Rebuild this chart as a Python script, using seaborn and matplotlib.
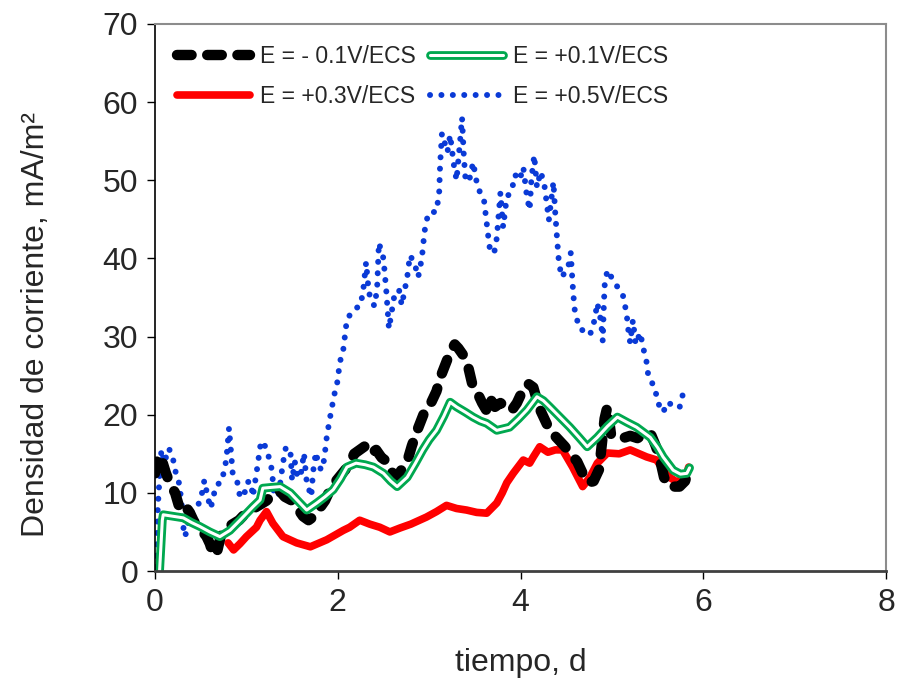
import numpy as np
import pandas as pd
import matplotlib
matplotlib.use('Agg')
import matplotlib.pyplot as plt
import matplotlib.patheffects as pe
import seaborn as sns

# E = -0.1 V/ECS
t_m01 = [0.00, 0.02, 0.05, 0.08, 0.12, 0.17, 0.22, 0.27, 0.32, 0.38, 0.42, 0.47, 0.52, 0.56,
         0.60, 0.64, 0.68, 0.72, 0.78, 0.85, 0.92, 1.00, 1.08, 1.15, 1.22, 1.30, 1.36, 1.42,
         1.50, 1.56, 1.62, 1.68, 1.74, 1.80, 1.86, 1.92, 1.98, 2.05, 2.12, 2.18, 2.24, 2.30,
         2.36, 2.42, 2.48, 2.54, 2.60, 2.65, 2.70, 2.76, 2.81, 2.87, 2.92, 2.97, 3.02, 3.08,
         3.13, 3.18, 3.23, 3.28, 3.32, 3.38, 3.43, 3.47, 3.52, 3.58, 3.63, 3.67, 3.72, 3.78,
         3.84, 3.90, 3.96, 4.02, 4.08, 4.14, 4.20, 4.26, 4.32, 4.40, 4.48, 4.55, 4.62, 4.68,
         4.74, 4.80, 4.86, 4.92, 4.95, 4.99, 5.05, 5.12, 5.20, 5.28, 5.35, 5.42, 5.48, 5.52,
         5.57, 5.62, 5.68, 5.74, 5.80, 5.83]
j_m01 = [12.5, 14.0, 13.0, 14.0, 12.5, 11.0, 10.0, 8.0, 8.5, 7.5, 6.5, 5.5, 5.0, 4.5,
         3.5, 2.0, 2.5, 4.5, 5.5, 6.0, 6.5, 7.5, 8.0, 8.5, 9.0, 10.0, 10.3, 9.5,
         9.0, 8.0, 7.0, 6.5, 7.0, 8.0, 9.0, 10.5, 11.5, 12.5, 13.5, 15.0, 15.5, 16.0,
         15.0, 15.5, 14.5, 14.0, 12.5, 12.0, 13.0, 14.0, 16.0, 18.0, 19.5, 21.0, 21.5, 23.0,
         25.0, 26.5, 28.0, 29.0, 28.5, 27.5, 26.0, 24.0, 23.0, 21.5, 20.5, 22.0, 21.0, 21.5,
         21.0, 20.5, 21.5, 23.0, 24.0, 23.5, 21.0, 19.5, 18.0, 17.0, 16.0, 15.0, 14.0, 12.5,
         11.3, 11.5, 13.0, 19.5, 21.0, 17.5, 17.0, 17.0, 17.3, 17.0, 17.5, 17.7, 16.0, 14.6,
         12.0, 10.8, 10.8, 10.8, 11.5, 12.5]

# E = +0.1 V/ECS
t_p01 = [0.05, 0.08, 0.09, 0.20, 0.31, 0.40, 0.49, 0.60, 0.71, 0.82, 0.93, 1.07, 1.15, 1.18,
         1.27, 1.37, 1.48, 1.57, 1.66, 1.77, 1.86, 1.95, 2.03, 2.10, 2.20, 2.30, 2.39, 2.50,
         2.58, 2.65, 2.76, 2.85, 2.93, 3.00, 3.08, 3.16, 3.23, 3.30, 3.40, 3.48, 3.56, 3.63,
         3.74, 3.88, 3.98, 4.07, 4.18, 4.25, 4.32, 4.43, 4.54, 4.64, 4.73, 4.84, 4.95, 5.06,
         5.17, 5.27, 5.42, 5.50, 5.56, 5.67, 5.75, 5.82, 5.85]
j_p01 = [0.0, 6.5, 7.2, 7.0, 6.8, 6.2, 5.7, 5.0, 4.4, 5.2, 6.5, 8.2, 9.1, 10.6,
         10.7, 10.8, 10.0, 8.9, 7.8, 8.7, 9.5, 10.4, 11.8, 13.3, 13.8, 13.6, 13.3, 12.5,
         11.5, 10.8, 12.0, 13.8, 15.5, 16.8, 18.0, 19.8, 21.6, 21.0, 20.3, 19.7, 19.2, 18.9,
         18.0, 18.4, 19.5, 20.6, 22.3, 21.8, 21.0, 19.7, 18.4, 17.1, 15.9, 17.1, 18.5, 19.7,
         19.0, 18.4, 17.1, 15.8, 14.6, 12.9, 12.4, 12.5, 13.2]

# E = +0.3 V/ECS
t_p03 = [0.80, 0.86, 0.93, 1.00, 1.11, 1.15, 1.22, 1.29, 1.40, 1.55, 1.70, 1.88, 2.06, 2.13,
         2.24, 2.35, 2.46, 2.57, 2.68, 2.80, 2.97, 3.08, 3.19, 3.30, 3.41, 3.52, 3.63, 3.74,
         3.80, 3.85, 3.92, 4.03, 4.10, 4.14, 4.21, 4.30, 4.38, 4.46, 4.57, 4.68, 4.76, 4.84,
         4.95, 5.08, 5.20, 5.30, 5.38, 5.49, 5.56, 5.63, 5.71, 5.77, 5.82, 5.84]
j_p03 = [3.6, 2.7, 3.5, 4.4, 5.6, 6.5, 7.6, 6.1, 4.4, 3.6, 3.1, 4.0, 5.2, 5.6,
         6.5, 6.0, 5.6, 5.0, 5.5, 6.0, 6.9, 7.6, 8.4, 8.0, 7.8, 7.5, 7.4, 8.7,
         10.0, 11.3, 12.5, 14.2, 13.8, 14.6, 15.9, 15.2, 15.5, 15.5, 13.3, 10.8, 12.0, 13.8,
         15.1, 15.0, 15.5, 15.0, 14.6, 14.2, 13.0, 12.0, 11.4, 11.8, 12.5, 13.3]

# E = +0.5 V/ECS
t_p05 = [0.00, 0.02, 0.03, 0.05, 0.07, 0.10, 0.15, 0.19, 0.22, 0.26, 0.29, 0.31, 0.33, 0.38,
         0.44, 0.50, 0.54, 0.58, 0.61, 0.64, 0.67, 0.73, 0.78, 0.81, 0.83, 0.85, 0.90, 0.93,
         0.97, 1.01, 1.05, 1.07, 1.11, 1.16, 1.20, 1.24, 1.28, 1.30, 1.35, 1.40, 1.43, 1.48,
         1.50, 1.53, 1.56, 1.60, 1.63, 1.66, 1.71, 1.73, 1.76, 1.79, 1.82, 1.85, 1.88, 1.91,
         1.94, 1.97, 2.00, 2.02, 2.06, 2.08, 2.10, 2.17, 2.25, 2.28, 2.31, 2.34, 2.40, 2.43,
         2.45, 2.50, 2.53, 2.56, 2.62, 2.67, 2.70, 2.76, 2.79, 2.84, 2.88, 2.92, 2.95, 2.99,
         3.08, 3.11, 3.12, 3.14, 3.20, 3.23, 3.27, 3.30, 3.34, 3.36, 3.38, 3.40, 3.45, 3.48,
         3.50, 3.53, 3.60, 3.63, 3.66, 3.71, 3.74, 3.76, 3.78, 3.81, 3.85, 3.90, 3.94, 3.99,
         4.03, 4.07, 4.10, 4.12, 4.15, 4.18, 4.22, 4.26, 4.29, 4.31, 4.34, 4.36, 4.38, 4.40,
         4.42, 4.45, 4.52, 4.55, 4.57, 4.59, 4.64, 4.76, 4.81, 4.84, 4.88, 4.90, 4.91, 4.92,
         4.95, 5.03, 5.12, 5.16, 5.18, 5.20, 5.23, 5.26, 5.31, 5.34, 5.38, 5.40, 5.47, 5.50,
         5.56, 5.61, 5.69, 5.74, 5.78]
j_p05 = [0.5, 3.0, 8.0, 12.0, 15.5, 13.8, 15.7, 14.8, 12.9, 11.4, 9.0, 5.6, 4.4, 7.2,
         7.8, 9.1, 11.6, 9.3, 8.0, 9.6, 11.0, 11.4, 14.2, 18.3, 15.5, 12.5, 11.4, 9.5,
         9.5, 11.4, 11.4, 9.5, 12.5, 16.6, 16.1, 14.8, 12.9, 10.0, 9.5, 13.8, 15.7, 15.7,
         11.6, 14.0, 11.9, 12.7, 15.1, 11.4, 9.5, 12.7, 15.2, 13.6, 12.9, 14.2, 17.2, 19.3,
         21.2, 23.0, 24.4, 26.6, 28.3, 30.2, 32.2, 33.4, 34.0, 36.1, 39.5, 35.6, 33.9, 36.0,
         42.0, 40.0, 36.0, 31.0, 35.3, 36.0, 34.0, 37.6, 40.4, 39.4, 37.6, 40.0, 43.5, 45.8,
         46.0, 48.5, 52.0, 56.0, 53.6, 55.8, 52.0, 50.0, 55.2, 58.0, 53.0, 49.8, 50.4, 52.3,
         51.1, 49.1, 47.5, 44.5, 41.5, 40.6, 42.6, 45.5, 48.4, 44.0, 47.9, 48.5, 50.7, 50.0,
         51.7, 47.9, 46.2, 50.3, 53.2, 49.1, 51.1, 49.5, 46.8, 44.9, 47.9, 49.8, 45.8, 42.5,
         39.5, 37.6, 38.8, 40.7, 36.7, 33.6, 31.1, 30.2, 32.1, 34.3, 32.0, 29.4, 33.4, 36.5,
         38.5, 36.9, 35.3, 33.0, 30.8, 29.2, 32.1, 29.0, 30.5, 28.7, 26.7, 24.8, 23.5, 21.6,
         20.3, 21.6, 21.0, 20.9, 22.8]

labels = ['E = - 0.1V/ECS', 'E = +0.1V/ECS', 'E = +0.3V/ECS', 'E = +0.5V/ECS']

sns.set_theme(style='white')
plt.rcParams['font.family'] = ['Liberation Sans', 'DejaVu Sans']

fig = plt.figure(figsize=(9.07, 6.85), dpi=100)
ax = fig.add_axes([0.1709, 0.1664, 0.9769 - 0.1709, 0.965 - 0.1664])

df_m01 = pd.DataFrame({'t': t_m01, 'j': j_m01})
df_p01 = pd.DataFrame({'t': t_p01, 'j': j_p01})
df_p03 = pd.DataFrame({'t': t_p03, 'j': j_p03})
df_p05 = pd.DataFrame({'t': t_p05, 'j': j_p05})

sns.lineplot(data=df_p05, x='t', y='j', ax=ax, sort=False, estimator=None,
             color='#0a3ad6', lw=4.3, linestyle=(0, (0.01, 1.9)),
             dash_capstyle='round')
sns.lineplot(data=df_p03, x='t', y='j', ax=ax, sort=False, estimator=None,
             color='#ff0000', lw=5.5, solid_capstyle='round')
sns.lineplot(data=df_m01, x='t', y='j', ax=ax, sort=False, estimator=None,
             color='black', lw=7.5, linestyle=(0, (1.4, 1.5)),
             dash_capstyle='round', solid_joinstyle='round')
sns.lineplot(data=df_p01, x='t', y='j', ax=ax, sort=False, estimator=None,
             color='white', lw=2.2,
             path_effects=[pe.Stroke(linewidth=6.3, foreground='#00a84f'), pe.Normal()])

h_p05, h_p03, h_m01, h_p01 = ax.lines[:4]
leg = fig.legend([h_m01, h_p03, h_p01, h_p05],
                 [labels[0], labels[2], labels[1], labels[3]],
                 ncol=2, frameon=False, fontsize=16.5,
                 loc='upper left', bbox_to_anchor=(0.172, 0.964),
                 handlelength=3.2, handletextpad=0.45, columnspacing=0.6,
                 labelspacing=0.72)

ax.set_xlim(0, 8)
ax.set_ylim(0, 70)
ax.set_xticks([0, 2, 4, 6, 8])
ax.set_yticks(np.arange(0, 71, 10))
ax.tick_params(axis='both', which='major', direction='out', length=6, width=1,
               color='black', labelsize=23, pad=6, bottom=True, left=True)

for side in ['top', 'right']:
    ax.spines[side].set_color('#8c8c8c')
    ax.spines[side].set_linewidth(1.5)
ax.spines['left'].set_color('black')
ax.spines['left'].set_linewidth(1.2)
ax.spines['bottom'].set_color('#404040')
ax.spines['bottom'].set_linewidth(2.0)

ax.set_xlabel('tiempo, d', fontsize=23)
ax.set_ylabel('Densidad de corriente, mA/m²', fontsize=23)
ax.yaxis.set_label_coords(-0.142, 0.45)
ax.xaxis.set_label_coords(0.5, -0.14)

fig.savefig('out.png', dpi=100)
